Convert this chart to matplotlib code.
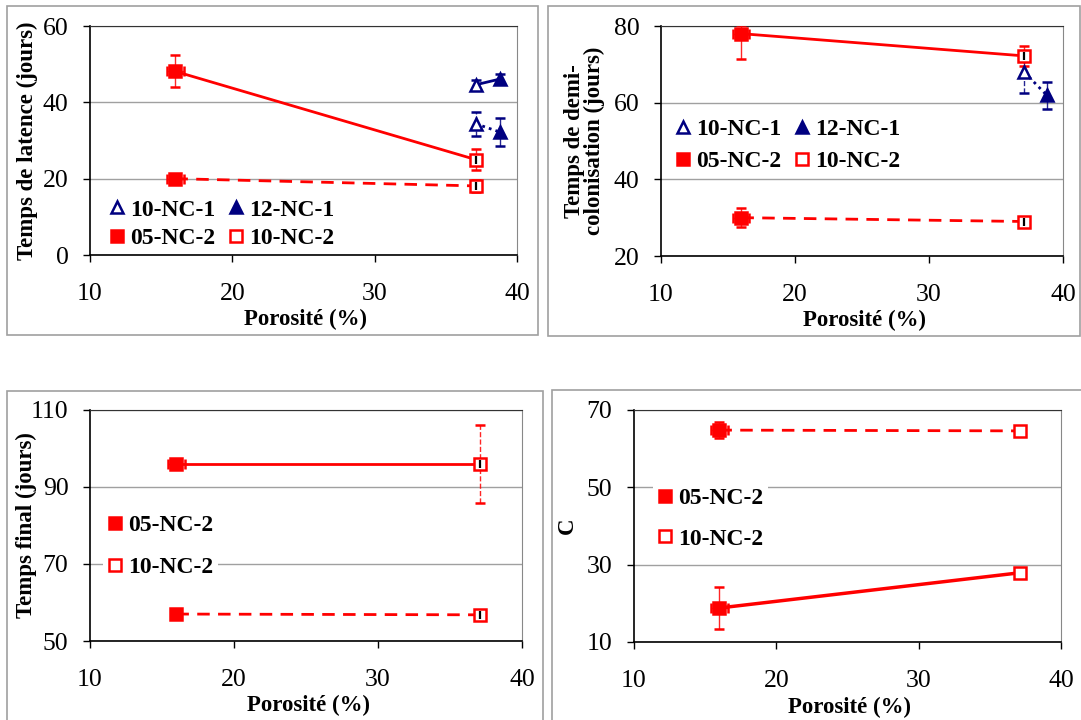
import matplotlib
matplotlib.use('Agg')
import matplotlib.pyplot as plt
from matplotlib.lines import Line2D
from matplotlib.patches import Rectangle

plt.rcParams['font.family'] = ['Liberation Serif', 'DejaVu Serif']

RED = '#FF0000'
BLUE = '#000080'

# porosity (%) of each sample
x_05nc2 = 16.0
x_10nc2 = 37.1
x_10nc1 = 37.1
x_12nc1 = 38.8

# temps de latence: [solid series, dashed series]
lat_05nc2 = [48.1, 20.0]
lat_05nc2_err = [4.2, 0.5]
lat_10nc2 = [25.0, 18.1]
lat_10nc2_err = [2.8, 1.6]
lat_10nc1 = [44.6, 34.4]
lat_10nc1_err = [1.3, 3.1]
lat_12nc1 = [46.1, 32.2]
lat_12nc1_err = [1.2, 3.6]

# temps de demi-colonisation
demi_05nc2 = [78.0, 30.0]
demi_05nc2_err_lo = [6.5, 2.4]
demi_05nc2_err_hi = [2.2, 2.4]
demi_10nc2 = [72.2, 29.0]
demi_10nc2_err = [2.6, 1.0]
demi_10nc1 = [68.0]
demi_10nc1_err = [5.5]
demi_12nc1 = [61.9]
demi_12nc1_err = [3.6]

# temps final
fin_05nc2 = [96.0, 57.0]
fin_05nc2_err = [0.5, 0.3]
fin_10nc2 = [96.0, 56.8]
fin_10nc2_err = [10.2, 0.8]

# C
c_05nc2 = [18.8, 64.8]
c_05nc2_err = [5.5, 2.1]
c_10nc2 = [27.9, 64.6]
c_10nc2_err = [0.3, 0.3]

x_err_05 = 0.6


def style_axes(ax, ylim, yticks, ylabel, ylab_x):
    ax.set_xlim(10, 40)
    ax.set_ylim(*ylim)
    ax.set_xticks([10, 20, 30, 40])
    ax.set_yticks(yticks)
    ax.yaxis.grid(True, color='#A0A0A0', lw=1.0)
    ax.set_axisbelow(True)
    ax.tick_params(axis='both', direction='out', length=5, width=1, labelsize=18.5)
    ax.tick_params(axis='x', pad=15)
    ax.tick_params(axis='y', pad=10.5)
    for s in ['left', 'bottom']:
        ax.spines[s].set_color('black')
        ax.spines[s].set_linewidth(1.2)
    ax.spines['top'].set_color('#333333')
    ax.spines['right'].set_color('#888888')
    ax.set_xlabel('Porosité (%)', fontsize=16.5, fontweight='bold', va='center')
    ax.xaxis.set_label_coords(0.505, -0.28)
    ax.set_ylabel(ylabel, fontsize=16.5, fontweight='bold', va='center',
                  linespacing=0.95)
    ax.yaxis.set_label_coords(ylab_x, 0.5)


def pt(ax, x, y, yerr, marker, color, filled, xerr=None, els='-', ms=8, inner=False):
    line, caps, bars = ax.errorbar([x], [y], yerr=yerr, xerr=xerr, fmt=marker,
                                   ms=ms, color=color, mfc=color if filled else 'white',
                                   mec=color, mew=1.8, ecolor=color, elinewidth=1,
                                   capsize=3.5, capthick=1, zorder=4)
    for b in bars:
        b.set_linestyle(els)
        b.set_alpha(0.85)
    if inner:
        ax.plot([x], [y], marker='|', ms=6, mew=1.6, color='black', zorder=4.5)


def link(ax, xs, ys, color, ls, lw=2):
    ax.plot(xs, ys, color=color, ls=ls, lw=lw, zorder=3)


def legend(ax, handles, ncol, x, y, spacing):
    leg = ax.legend(handles=handles, ncol=ncol, loc='upper left',
                    bbox_to_anchor=(x, y), frameon=True, fancybox=False,
                    edgecolor='none', facecolor='white', framealpha=1,
                    borderpad=0.2, borderaxespad=0, handlelength=0.6,
                    handletextpad=0.25, columnspacing=0.6, labelspacing=spacing,
                    prop={'size': 17, 'weight': 'bold'})
    leg.set_zorder(2.6)


h_10nc1 = Line2D([], [], ls='none', marker='^', ms=8, mfc='white', mec=BLUE, mew=1.8, label='10-NC-1')
h_12nc1 = Line2D([], [], ls='none', marker='^', ms=8, mfc=BLUE, mec=BLUE, mew=1.8, label='12-NC-1')
h_05nc2 = Line2D([], [], ls='none', marker='s', ms=8, mfc=RED, mec=RED, mew=1.8, label='05-NC-2')
h_10nc2 = Line2D([], [], ls='none', marker='s', ms=8, mfc='white', mec=RED, mew=1.8, label='10-NC-2')

W, H = 1081, 720
fig = plt.figure(figsize=(W / 100, H / 100), dpi=100)

# panel frames (pixels: left, top, right, bottom)
for l, t, r, b in [(7.5, 5.5, 538, 335), (547.5, 5.5, 1080, 336),
                   (7.5, 391, 543, 725), (552, 390, 1085, 725)]:
    fig.patches.append(Rectangle((l / W, 1 - b / H), (r - l) / W, (b - t) / H,
                                 transform=fig.transFigure, fill=False,
                                 edgecolor='#A0A0A0', lw=1.2))


def axes_px(l, t, r, b):
    return fig.add_axes([l / W, 1 - b / H, (r - l) / W, (b - t) / H])


dashed = (0, (4.5, 3))
dotted = (0, (1, 1.5))

# --- panel 1: temps de latence
ax1 = axes_px(90, 26, 517, 255)
link(ax1, [x_05nc2, x_10nc2], [lat_05nc2[0], lat_10nc2[0]], RED, '-')
link(ax1, [x_05nc2, x_10nc2], [lat_05nc2[1], lat_10nc2[1]], RED, dashed)
link(ax1, [x_10nc1, x_12nc1], [lat_10nc1[0], lat_12nc1[0]], BLUE, '-')
link(ax1, [x_10nc1, x_12nc1], [lat_10nc1[1], lat_12nc1[1]], BLUE, dotted)
for i in range(2):
    pt(ax1, x_05nc2, lat_05nc2[i], lat_05nc2_err[i], 's', RED, True, xerr=x_err_05)
    pt(ax1, x_10nc2, lat_10nc2[i], lat_10nc2_err[i], 's', RED, False, inner=True)
    pt(ax1, x_10nc1, lat_10nc1[i], lat_10nc1_err[i], '^', BLUE, False, els='--')
    pt(ax1, x_12nc1, lat_12nc1[i], lat_12nc1_err[i], '^', BLUE, True)
style_axes(ax1, (0, 60), [0, 20, 40, 60], 'Temps de latence (jours)', -0.146)
legend(ax1, [h_10nc1, h_05nc2, h_12nc1, h_10nc2], 2, 0.035, 0.265, 0.3)

# --- panel 2: temps de demi-colonisation
ax2 = axes_px(661, 26, 1063, 256)
link(ax2, [x_05nc2, x_10nc2], [demi_05nc2[0], demi_10nc2[0]], RED, '-')
link(ax2, [x_05nc2, x_10nc2], [demi_05nc2[1], demi_10nc2[1]], RED, dashed)
link(ax2, [x_10nc1, x_12nc1], [demi_10nc1[0], demi_12nc1[0]], BLUE, dotted)
for i in range(2):
    pt(ax2, x_05nc2, demi_05nc2[i], [[demi_05nc2_err_lo[i]], [demi_05nc2_err_hi[i]]],
       's', RED, True, xerr=x_err_05)
    pt(ax2, x_10nc2, demi_10nc2[i], demi_10nc2_err[i], 's', RED, False, inner=True)
pt(ax2, x_10nc1, demi_10nc1[0], demi_10nc1_err[0], '^', BLUE, False, els='--')
pt(ax2, x_12nc1, demi_12nc1[0], demi_12nc1_err[0], '^', BLUE, True)
style_axes(ax2, (20, 80), [20, 40, 60, 80], 'Temps de demi-\ncolonisation (jours)', -0.19)
legend(ax2, [h_10nc1, h_05nc2, h_12nc1, h_10nc2], 2, 0.025, 0.617, 0.44)

# --- panel 3: temps final
ax3 = axes_px(90, 410, 522, 641)
link(ax3, [x_05nc2, x_10nc2], [fin_05nc2[0], fin_10nc2[0]], RED, '-')
link(ax3, [x_05nc2, x_10nc2], [fin_05nc2[1], fin_10nc2[1]], RED, dashed)
pt(ax3, x_05nc2, fin_05nc2[0], fin_05nc2_err[0], 's', RED, True, xerr=x_err_05)
pt(ax3, x_05nc2, fin_05nc2[1], fin_05nc2_err[1], 's', RED, True)
for i in range(2):
    pt(ax3, x_10nc2, fin_10nc2[i], fin_10nc2_err[i], 's', RED, False, els='--', inner=True)
style_axes(ax3, (50, 110), [50, 70, 90, 110], 'Temps final (jours)', -0.148)
legend(ax3, [h_05nc2, h_10nc2], 1, 0.03, 0.567, 0.85)

# --- panel 4: C
ax4 = axes_px(634, 410, 1061, 642)
link(ax4, [x_05nc2, x_10nc2], [c_05nc2[0], c_10nc2[0]], RED, '-', lw=2.5)
link(ax4, [x_05nc2, x_10nc2], [c_05nc2[1], c_10nc2[1]], RED, dashed)
for i in range(2):
    pt(ax4, x_05nc2, c_05nc2[i], c_05nc2_err[i], 's', RED, True, xerr=x_err_05)
    pt(ax4, x_10nc2, c_10nc2[i], c_10nc2_err[i], 's', RED, False)
style_axes(ax4, (10, 70), [10, 30, 50, 70], 'C', -0.155)
legend(ax4, [h_05nc2, h_10nc2], 1, 0.045, 0.685, 0.79)

fig.savefig('out.png', dpi=100)
